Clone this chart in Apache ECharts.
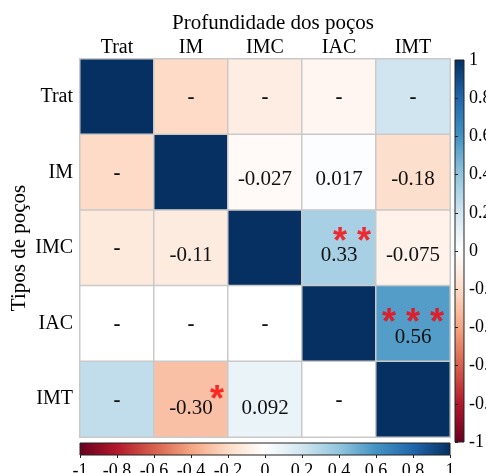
<!DOCTYPE html>
<html>
<head>
<meta charset="utf-8">
<script src="https://cdn.jsdelivr.net/npm/echarts@6/dist/echarts.min.js"></script>
<style>html,body{margin:0;padding:0;background:#fff;}#c{width:486px;height:473px;}</style>
</head>
<body>
<div id="c"></div>
<script>
const rowNames = ['Trat', 'IM', 'IMC', 'IAC', 'IMT'];
const colNames = ['Trat', 'IM', 'IMC', 'IAC', 'IMT'];
const corrValues = [
  [1, -0.2, -0.1, -0.05, 0.2],
  [-0.2, 1, -0.027, 0.017, -0.18],
  [-0.12, -0.11, 1, 0.33, -0.075],
  [0, 0, 0, 1, 0.56],
  [0.25, -0.30, 0.092, 0, 1]
];
const cellText = [
  ['', '-', '-', '-', '-'],
  ['-', '', '-0.027', '0.017', '-0.18'],
  ['-', '-0.11', '', '0.33', '-0.075'],
  ['-', '-', '-', '', '0.56'],
  ['-', '-0.30', '0.092', '-', '']
];
const starText = [
  ['', '', '', '', ''],
  ['', '', '', '', ''],
  ['', '', '', '**', ''],
  ['', '', '', '', '***'],
  ['', '*', '', '', '']
];
const rdbu = ['#67001f', '#b2182b', '#d6604d', '#f4a582', '#fddbc7', '#ffffff', '#d1e5f0', '#92c5de', '#4393c3', '#2166ac', '#053061'];
const tickMin = -1, tickMax = 1, tickStep = 0.2;

const FONT = 'Liberation Serif';
const chart = echarts.init(document.getElementById('c'));

const heatData = [];
const starData = [];
const starOffsets = { '*': [26, 2], '**': [13, -5], '***': [0, 0] };
for (let r = 0; r < rowNames.length; r++) {
  for (let c = 0; c < colNames.length; c++) {
    const t = cellText[r][c];
    const s = starText[r][c];
    let lab;
    if (t === '-' || t === '') lab = { offset: [0, 1], fontWeight: 'bold' };
    else if (s === '***') lab = { offset: [0, 14] };
    else if (r === rowNames.length - 1) lab = { offset: [0, 9] };
    else lab = { offset: [0, 7] };
    heatData.push({ value: [c, r, corrValues[r][c]], label: lab });
    if (s) {
      starData.push({
        value: [c, r],
        label: { formatter: s.split('').join(' '), offset: starOffsets[s] }
      });
    }
  }
}

function grad(vertical) {
  const stops = rdbu.map((col, i) => ({ offset: i / (rdbu.length - 1), color: col }));
  return vertical ? new echarts.graphic.LinearGradient(0, 1, 0, 0, stops)
                  : new echarts.graphic.LinearGradient(0, 0, 1, 0, stops);
}

const axisTxt = { color: '#000', fontFamily: FONT };

chart.setOption({
  animation: false,
  backgroundColor: '#fff',
  grid: [
    { left: 80, top: 59, width: 370, height: 378, show: false, outerBoundsMode: 'none', containLabel: false },
    { left: 455, top: 60, width: 9, height: 382, show: true, backgroundColor: grad(true), borderColor: '#222', borderWidth: 1, outerBoundsMode: 'none', containLabel: false },
    { left: 80, top: 443, width: 370, height: 12, show: true, backgroundColor: grad(false), borderColor: '#222', borderWidth: 1, outerBoundsMode: 'none', containLabel: false }
  ],
  xAxis: [
    {
      type: 'category', data: colNames, gridIndex: 0, position: 'top',
      axisLine: { show: false }, axisTick: { show: false }, splitLine: { show: false },
      axisLabel: Object.assign({ fontSize: 20, margin: 1 }, axisTxt),
      name: 'Profundidade dos poços', nameLocation: 'middle', nameGap: 25, nameMoveOverlap: false,
      nameTextStyle: Object.assign({ fontSize: 21, padding: [0, 0, 0, 16] }, axisTxt)
    },
    { type: 'value', gridIndex: 1, show: false, min: 0, max: 1 },
    {
      type: 'value', gridIndex: 2, position: 'bottom', min: tickMin, max: tickMax, interval: tickStep,
      axisLine: { show: false }, axisTick: { show: true, length: 3, lineStyle: { color: '#222' } },
      splitLine: { show: false },
      axisLabel: Object.assign({ fontSize: 18, margin: 7, hideOverlap: false }, axisTxt)
    }
  ],
  yAxis: [
    {
      type: 'category', data: rowNames, gridIndex: 0, inverse: true,
      axisLine: { show: false }, axisTick: { show: false }, splitLine: { show: false },
      axisLabel: Object.assign({ fontSize: 20, margin: 7 }, axisTxt),
      name: 'Tipos de poços', nameLocation: 'middle', nameGap: 50, nameRotate: 90, nameMoveOverlap: false,
      nameTextStyle: Object.assign({ fontSize: 21 }, axisTxt)
    },
    {
      type: 'value', gridIndex: 1, position: 'right', min: tickMin, max: tickMax, interval: tickStep,
      axisLine: { show: false }, axisTick: { show: true, length: 3, lineStyle: { color: '#222' } },
      splitLine: { show: false },
      axisLabel: Object.assign({ fontSize: 18, margin: 5, hideOverlap: false }, axisTxt)
    },
    { type: 'value', gridIndex: 2, show: false, min: 0, max: 1 }
  ],
  visualMap: {
    show: false, type: 'continuous', min: -1, max: 1, dimension: 2, seriesIndex: 0,
    inRange: { color: rdbu }
  },
  series: [
    {
      type: 'heatmap', xAxisIndex: 0, yAxisIndex: 0, data: heatData,
      itemStyle: { borderColor: '#c9c9c9', borderWidth: 1.5 },
      label: {
        show: true, fontSize: 21, fontFamily: FONT, color: '#111',
        formatter: p => cellText[p.value[1]][p.value[0]]
      },
      emphasis: { disabled: true }
    },
    {
      type: 'scatter', xAxisIndex: 0, yAxisIndex: 0, data: starData,
      symbolSize: 1, itemStyle: { color: 'rgba(0,0,0,0)' },
      label: { show: true, position: 'inside', color: '#ff0000', fontSize: 36, fontWeight: 'bold', fontFamily: 'Liberation Sans' },
      emphasis: { disabled: true }, silent: true
    }
  ]
});
</script>
</body>
</html>
